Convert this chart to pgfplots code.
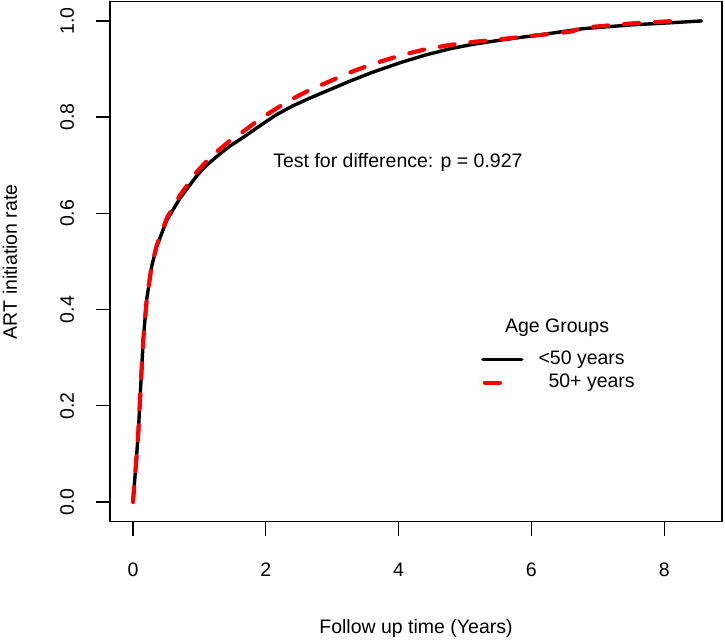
\documentclass[border=0pt]{standalone}
\usepackage{fontspec}
\setmainfont{Liberation Sans}
\usepackage{pgfplots}
\pgfplotsset{compat=1.18}
\usetikzlibrary{calc}
\begin{document}
\begin{tikzpicture}[font=\fontsize{19.5bp}{23bp}\selectfont]
\path[use as bounding box] (-110bp,-118.3bp) rectangle (615bp,521.7bp);
\begin{axis}[
  scale only axis,
  width=612bp, height=520bp,
  xmin=-0.346, xmax=8.87,
  ymin=-0.041, ymax=1.040,
  axis line style={line width=1.3bp},
  every tick/.style={black, line width=1.3bp},
  tick align=outside,
  major tick length=14bp,
  xtick={0,2,4,6,8},
  ytick={0,0.2,0.4,0.6,0.8,1.0},
  xtick pos=bottom, ytick pos=left,
  /pgf/number format/assume math mode=true,
  yticklabel style={/pgf/number format/fixed, /pgf/number format/fixed zerofill, /pgf/number format/precision=1, rotate=90, anchor=base},
  xticklabel style={anchor=base},
  yticklabel shift=22bp,
  xticklabel shift=41bp,
  xlabel={Follow up time (Years)},
  ylabel={ART initiation rate},
  every axis x label/.style={at={($(rel axis cs:0.5,0)+(0,-112bp)$)}, anchor=base},
  every axis y label/.style={at={($(rel axis cs:0,0.5)+(-93bp,0)$)}, rotate=90, anchor=base},
  legend style={draw=none, fill=none, at={(axis cs:5.24,0.315)}, anchor=north west, inner sep=0pt, row sep=5bp,
    nodes={inner sep=0bp, text height=14bp, text depth=4bp},
    /tikz/every odd column/.append style={column sep=15bp}},
  legend cell align=left,
]
\addplot[black, line width=3.4bp, line join=round, line cap=round,
  legend image code/.code={\draw[black, line width=3.4bp, line cap=round] (0bp,0bp) -- (39bp,0bp);}]
coordinates {
(0,0) (0.04,0.07) (0.08,0.143) (0.12,0.25) (0.155,0.337) (0.206,0.42) (0.28,0.489) (0.357,0.531)
(0.51,0.586) (0.71,0.632) (0.96,0.678) (1.1,0.699) (1.26,0.718) (1.45,0.739) (1.66,0.758) (1.9,0.781) (2.16,0.805) (2.4,0.823) (2.67,0.840)
(3.27,0.875) (3.6,0.893) (4.02,0.913) (4.4,0.929) (4.77,0.942) (5.1,0.951) (5.53,0.960) (6.28,0.974) (6.78,0.984) (7.53,0.992)
(8.2,0.997) (8.56,1.0)
};
\addlegendentry{<50 years}
\addplot[red, line width=4.2bp, line cap=round, dash pattern=on 15bp off 16bp,
  legend image code/.code={\draw[red, line width=4.2bp, line cap=round] (2bp,0bp) -- (19bp,0bp);}]
coordinates {
(0,0) (0.04,0.07) (0.08,0.143) (0.12,0.25) (0.155,0.337) (0.206,0.42) (0.28,0.49) (0.357,0.533)
(0.51,0.590) (0.71,0.638) (0.96,0.686) (1.1,0.707) (1.26,0.728) (1.45,0.750) (1.66,0.770) (1.9,0.795) (2.16,0.818) (2.4,0.838) (2.67,0.857)
(3.27,0.893) (3.6,0.910) (4.02,0.928) (4.4,0.941) (4.77,0.950) (5.1,0.956) (5.53,0.962) (6.28,0.973) (6.6,0.978) (6.78,0.986)
(7.53,0.995) (8.16,1.0)
};
\addlegendentry{\hspace{10bp}50+ years}
\node[anchor=base] at (axis cs:3.99,0.696) {Test for difference: p = 0.927};
\node[anchor=base west] at (axis cs:5.55,0.352) {Age Groups};
\end{axis}
\end{tikzpicture}
\end{document}
